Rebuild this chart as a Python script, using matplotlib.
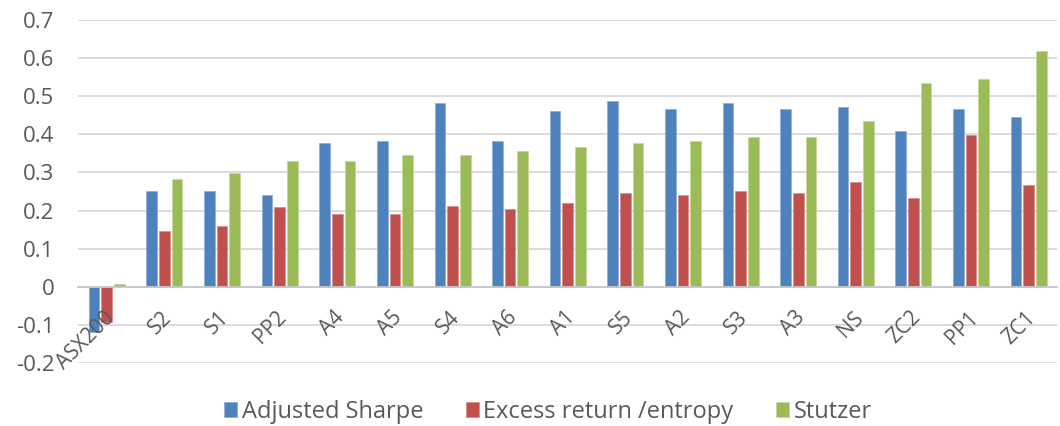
import numpy as np
import matplotlib
matplotlib.use("Agg")
import matplotlib.pyplot as plt
from matplotlib.transforms import ScaledTranslation

# values
categories = ["ASX200", "S2", "S1", "PP2", "A4", "A5", "S4", "A6", "A1",
              "S5", "A2", "S3", "A3", "NS", "ZC2", "PP1", "ZC1"]
adjusted_sharpe = [-0.12, 0.25, 0.25, 0.24, 0.377, 0.382, 0.482, 0.382, 0.461,
                   0.487, 0.466, 0.482, 0.466, 0.472, 0.408, 0.466, 0.445]
excess_entropy = [-0.093, 0.145, 0.16, 0.208, 0.192, 0.192, 0.213, 0.203, 0.219,
                  0.245, 0.24, 0.25, 0.245, 0.276, 0.234, 0.398, 0.266]
stutzer = [0.007, 0.282, 0.298, 0.329, 0.329, 0.346, 0.346, 0.355, 0.367,
           0.377, 0.382, 0.393, 0.393, 0.435, 0.535, 0.545, 0.619]
yticks = [-0.2, -0.1, 0, 0.1, 0.2, 0.3, 0.4, 0.5, 0.6, 0.7]
ytick_labels = ["-0.2", "-0.1", "0", "0.1", "0.2", "0.3", "0.4", "0.5", "0.6", "0.7"]

series = [
    ("Adjusted Sharpe", adjusted_sharpe, "#4F81BD", "#8FB0D8"),
    ("Excess return /entropy", excess_entropy, "#C0504D", "#DC8E8C"),
    ("Stutzer", stutzer, "#9BBB59", "#C4D99A"),
]

plt.rcParams["font.family"] = ["Open Sans", "DejaVu Sans"]

fig = plt.figure(figsize=(10.6, 4.26), dpi=100)
ax = fig.add_axes([0.0736, 0.148, 0.924, 0.805])

x = np.arange(len(categories))
bw = 0.185
offsets = [-0.22, 0.0, 0.22]
for (name, vals, col, edge), off in zip(series, offsets):
    ax.bar(x + off, vals, width=bw, color=col, edgecolor=edge, linewidth=0.6,
           label=name, zorder=1)

# gridlines drawn by hand so the category labels can sit on top of the bars
for yv in yticks:
    ax.axhline(yv, color="#D9D9D9", linewidth=1.3, zorder=0.5)

ax.set_xlim(-0.5, len(categories) - 0.5)
ax.set_ylim(-0.2, 0.7)
ax.set_yticks(yticks)
ax.set_yticklabels(ytick_labels)
ax.set_axisbelow(False)

for s in ["top", "right", "left"]:
    ax.spines[s].set_visible(False)
ax.spines["bottom"].set_position(("data", 0))
ax.spines["bottom"].set_color("#C8C8C8")
ax.spines["bottom"].set_linewidth(1.3)

ax.set_xticks(x)
ax.set_xticklabels(categories, rotation=45, ha="right", va="center",
                   rotation_mode="anchor")
ax.tick_params(axis="x", length=0, pad=20, labelsize=15, labelcolor="#595959")
ax.tick_params(axis="y", length=0, pad=17, labelsize=16, labelcolor="#595959")
# nudge category labels a little to the right, as in the original
shift = ScaledTranslation(4 / 100, 0, fig.dpi_scale_trans)
for lab in ax.get_xticklabels():
    lab.set_transform(lab.get_transform() + shift)

fig.legend(loc="center", bbox_to_anchor=(0.517, 0.033), ncol=3, frameon=False,
           fontsize=17, handlelength=0.55, handleheight=0.55, handletextpad=0.2,
           columnspacing=1.8, labelcolor="#595959")

fig.savefig("out.png", dpi=100)
